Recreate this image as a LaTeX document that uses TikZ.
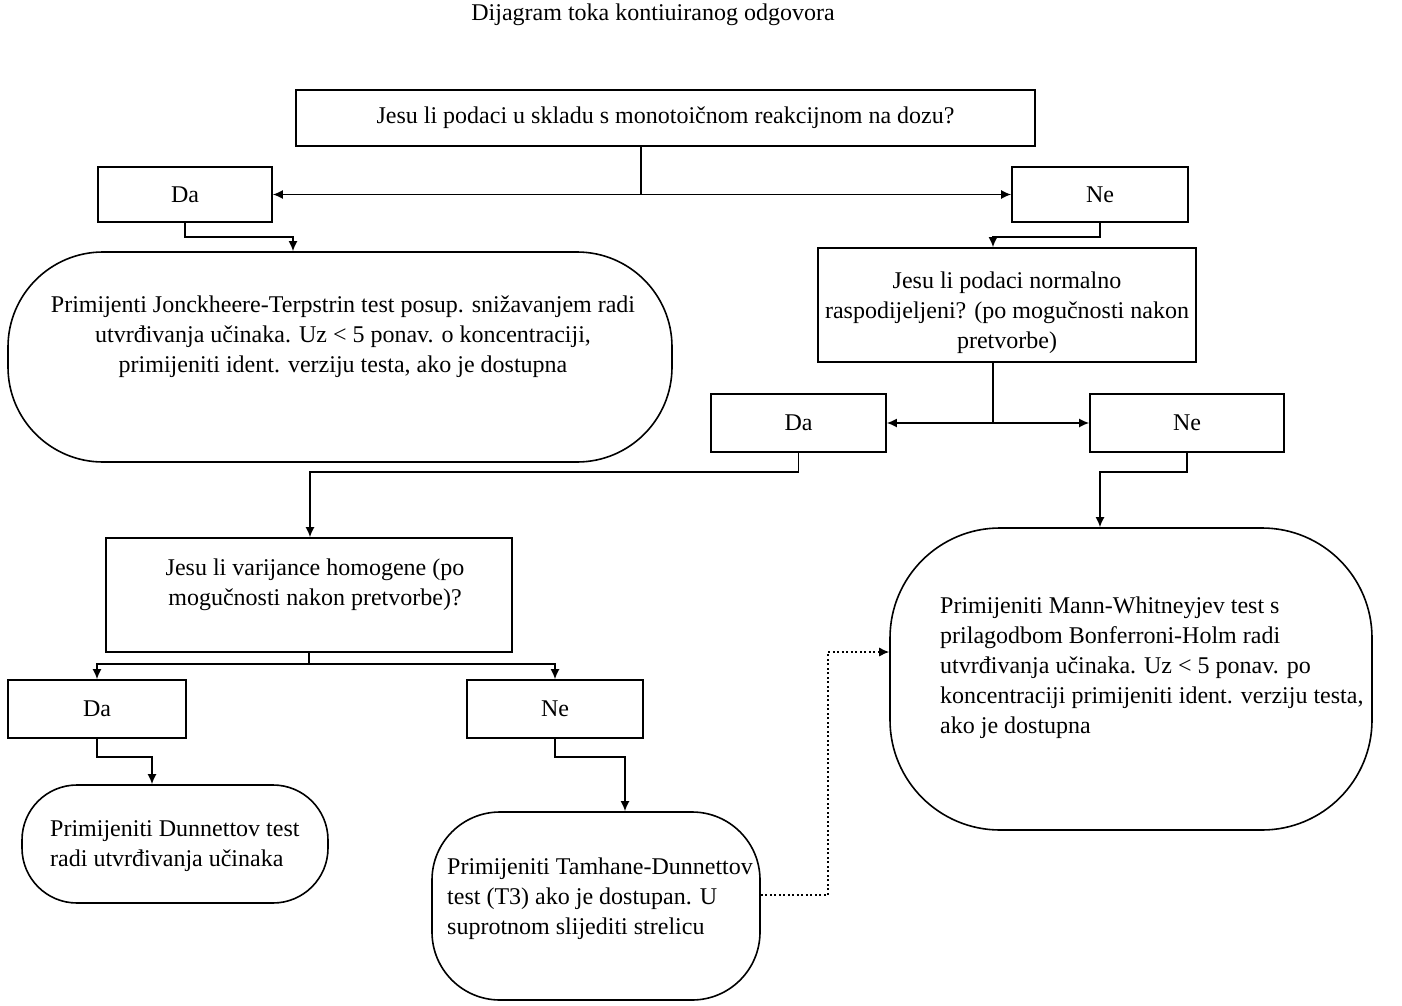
\documentclass[tikz,border=0pt]{standalone}
\usepackage{fontspec}
\setmainfont{Liberation Serif}
\usetikzlibrary{arrows.meta}
\begin{document}
\begin{tikzpicture}[x=1pt,y=-1pt,
  every node/.style={font=\fontsize{24}{30}\selectfont},
  box/.style={draw, line width=1.6pt, fill=white, inner sep=0pt},
  term/.style={draw, line width=1.6pt, fill=white, inner sep=0pt},
  txt/.style={inner sep=0pt},
  conn/.style={line width=1.6pt},
  arr/.style={line width=1.6pt, -{Latex[length=10pt,width=9pt]}},
  dotarr/.style={line width=1.3pt, dash pattern=on 2pt off 2.5pt, -{Latex[length=10pt,width=9pt]}}]
\useasboundingbox (0,0) rectangle (1402,1006);

% title
\node[txt] (title) at (653,15) {Dijagram toka kontiuiranog odgovora};

% rectangles
\node[box, minimum width=739pt, minimum height=56pt] (q1) at (665.5,118) {Jesu li podaci u skladu s monotoičnom reakcijnom na dozu?};
\node[box, minimum width=174pt, minimum height=55pt] (da1) at (185,194.5) {Da};
\node[box, minimum width=176pt, minimum height=55pt] (ne1) at (1100,194.5) {Ne};
\node[box, minimum width=378pt, minimum height=114pt] (q2) at (1007,305) {};
\node[txt, align=center] (q2t) at (1007,313) {Jesu li podaci normalno\\raspodijeljeni? (po mogučnosti nakon\\pretvorbe)};
\node[box, minimum width=175pt, minimum height=58pt] (da2) at (798.5,423) {Da};
\node[box, minimum width=194pt, minimum height=58pt] (ne2) at (1187,423) {Ne};
\node[box, minimum width=406pt, minimum height=114pt] (q3) at (309,595) {};
\node[txt, align=center] (q3t) at (315,585) {Jesu li varijance homogene (po\\mogučnosti nakon pretvorbe)?};
\node[box, minimum width=178pt, minimum height=58pt] (da3) at (97,709) {Da};
\node[box, minimum width=176pt, minimum height=58pt] (ne3) at (555,709) {Ne};

% terminal shapes
\node[term, rounded corners=95pt, minimum width=664pt, minimum height=210pt] (jt) at (340,357) {};
\node[txt, align=center] (jtt) at (343,337) {Primijenti Jonckheere-Terpstrin test posup. snižavanjem radi\\utvrđivanja učinaka. Uz < 5 ponav. o koncentraciji,\\primijeniti ident. verziju testa, ako je dostupna};
\node[term, rounded corners=110pt, minimum width=482pt, minimum height=302pt] (mw) at (1131,679) {};
\node[txt, align=left, anchor=west] (mwt) at (940,668) {Primijeniti Mann-Whitneyjev test s\\prilagodbom Bonferroni-Holm radi\\utvrđivanja učinaka. Uz < 5 ponav. po\\koncentraciji primijeniti ident. verziju testa,\\ako je dostupna};
\node[term, rounded corners=55pt, minimum width=306pt, minimum height=118pt] (du) at (175,844) {};
\node[txt, align=left, anchor=west] (dut) at (50,846) {Primijeniti Dunnettov test\\radi utvrđivanja učinaka};
\node[term, rounded corners=68pt, minimum width=328pt, minimum height=188pt] (th) at (596,906) {};
\node[txt, align=left, anchor=west] (tht) at (447,899) {Primijeniti Tamhane-Dunnettov\\test (T3) ako je dostupan. U\\suprotnom slijediti strelicu};

% connectors
\coordinate (b1) at (641,194.5);
\draw[conn] (q1.south -| b1) -- (b1);
\draw[arr] (b1) -- (da1.east);
\draw[arr] (b1) -- (ne1.west);

\coordinate (c1) at (293,237);
\draw[arr] (da1.south) |- (c1) -- (c1 |- jt.north);
\coordinate (c2) at (993,237);
\draw[arr] (ne1.south) |- (c2) -- (c2 |- q2.north);

\coordinate (b2) at (993,423);
\draw[conn] (q2.south -| b2) -- (b2);
\draw[arr] (b2) -- (da2.east);
\draw[arr] (b2) -- (ne2.west);

\coordinate (c3) at (310,472);
\draw[arr] (da2.south) |- (c3) -- (c3 |- q3.north);
\coordinate (c4) at (1100,472);
\draw[arr] (ne2.south) |- (c4) -- (c4 |- mw.north);

\coordinate (b3) at (309,664);
\draw[conn] (q3.south) -- (b3);
\draw[arr] (b3) -| (da3.north);
\draw[arr] (b3) -| (ne3.north);

\coordinate (c5) at (152,757);
\draw[arr] (da3.south) |- (c5) -- (c5 |- du.north);
\coordinate (c6) at (625,757);
\draw[arr] (ne3.south) |- (c6) -- (c6 |- th.north);

\coordinate (d1) at (828,895);
\coordinate (d2) at (828,652);
\draw[dotarr] (th.east |- d1) -- (d1) -- (d2) -- (mw.west |- d2);
\end{tikzpicture}
\end{document}
